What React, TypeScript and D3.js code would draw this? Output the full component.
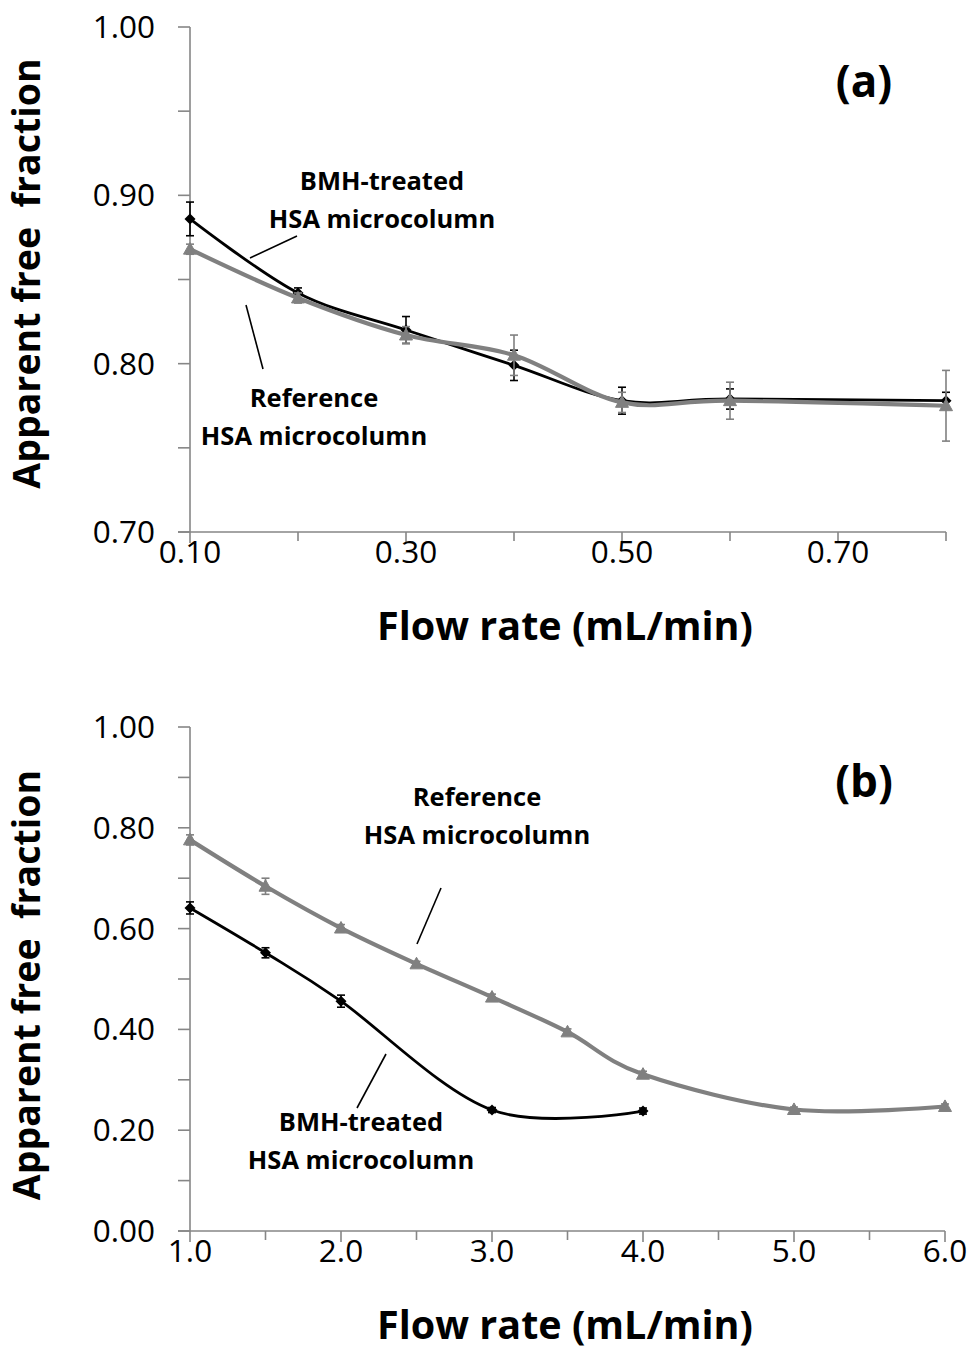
import React from "react";
import * as d3 from "d3";

// ---------- Panel (a) data ----------
const flowA = [0.1, 0.2, 0.3, 0.4, 0.5, 0.6, 0.8];
const bmhA = [0.886, 0.842, 0.82, 0.799, 0.778, 0.779, 0.778];
const bmhAErr = [0.01, 0.003, 0.008, 0.009, 0.008, 0.006, 0.005];
const refA = [0.868, 0.839, 0.817, 0.805, 0.777, 0.778, 0.775];
const refAErr = [0.003, 0.003, 0.005, 0.012, 0.006, 0.011, 0.021];
const xTicksA = [0.1, 0.2, 0.3, 0.4, 0.5, 0.6, 0.7, 0.8];
const xLabelsA = [0.1, 0.3, 0.5, 0.7];
const yTicksA = [0.7, 0.75, 0.8, 0.85, 0.9, 0.95, 1.0];
const yLabelsA = [0.7, 0.8, 0.9, 1.0];

// ---------- Panel (b) data ----------
const flowBmhB = [1.0, 1.5, 2.0, 3.0, 4.0];
const bmhB = [0.641, 0.552, 0.456, 0.24, 0.238];
const bmhBErr = [0.012, 0.01, 0.012, 0.005, 0.006];
const flowRefB = [1.0, 1.5, 2.0, 2.5, 3.0, 3.5, 4.0, 5.0, 6.0];
const refB = [0.776, 0.684, 0.601, 0.53, 0.464, 0.395, 0.311, 0.241, 0.247];
const refBErr = [0.01, 0.016, 0.007, 0.005, 0.006, 0.006, 0.006, 0.005, 0.005];
const xTicksB = [1, 1.5, 2, 2.5, 3, 3.5, 4, 4.5, 5, 5.5, 6];
const xLabelsB = [1, 2, 3, 4, 5, 6];
const yTicksB = [0, 0.1, 0.2, 0.3, 0.4, 0.5, 0.6, 0.7, 0.8, 0.9, 1.0];
const yLabelsB = [0, 0.2, 0.4, 0.6, 0.8, 1.0];

const AXIS = "#868686";
const GRAY = "#808080";
const FONT = "'Open Sans', 'DejaVu Sans', sans-serif";

type Series = { x: number[]; y: number[]; err: number[]; color: string; width: number; marker: "diamond" | "triangle" };

function marker(kind: string, cx: number, cy: number, color: string, key: string) {
  if (kind === "diamond") {
    const r = 5.5;
    return <path key={key} d={`M${cx},${cy - r}L${cx + r},${cy}L${cx},${cy + r}L${cx - r},${cy}Z`} fill={color} />;
  }
  const w = 6.5, h = 11;
  return <path key={key} d={`M${cx},${cy - h * 0.6}L${cx + w},${cy + h * 0.45}L${cx - w},${cy + h * 0.45}Z`} fill={color} stroke={color} strokeWidth={1} strokeLinejoin="round" />;
}

function Panel(props: {
  xDomain: [number, number]; yDomain: [number, number];
  xRange: [number, number]; yRange: [number, number];
  xTicks: number[]; xLabels: number[]; yTicks: number[]; yLabels: number[];
  xFmt: string; yFmt: string; series: Series[]; tag: string; titleShift: number;
  notes: { lines: string[]; x: number; y: number; leader: [number, number, number, number] }[];
}) {
  const x = d3.scaleLinear().domain(props.xDomain).range(props.xRange);
  const y = d3.scaleLinear().domain(props.yDomain).range(props.yRange);
  const xf = d3.format(props.xFmt);
  const yf = d3.format(props.yFmt);
  const x0 = props.xRange[0], x1 = props.xRange[1];
  const yb = props.yRange[0], yt = props.yRange[1];
  const isLabX = (v: number) => props.xLabels.some((l) => Math.abs(l - v) < 1e-9);
  const line = d3.line<[number, number]>().x((d) => x(d[0])).y((d) => y(d[1])).curve(d3.curveCardinal.tension(0));
  return (
    <g>
      {/* axes */}
      <line x1={x0} x2={x0} y1={yt} y2={yb} stroke={AXIS} strokeWidth={1.6} />
      <line x1={x0 - 12} x2={x1} y1={yb} y2={yb} stroke={AXIS} strokeWidth={1.6} />
      {props.yTicks.map((v, i) => (
        <line key={"yt" + i} x1={x0 - 12} x2={x0} y1={y(v)} y2={y(v)} stroke={AXIS} strokeWidth={1.6} />
      ))}
      {props.xTicks.map((v, i) => (
        <line key={"xt" + i} x1={x(v)} x2={x(v)} y1={yb} y2={yb + (isLabX(v) ? 11 : 9)} stroke={AXIS} strokeWidth={1.6} />
      ))}
      {props.yLabels.map((v, i) => (
        <text key={"yl" + i} x={x0 - 35} y={y(v) + 11} textAnchor="end" fontFamily={FONT} fontSize={31.5} fill="#000">
          {yf(v)}
        </text>
      ))}
      {props.xLabels.map((v, i) => (
        <text key={"xl" + i} x={x(v)} y={yb + 31} textAnchor="middle" fontFamily={FONT} fontSize={31.5} fill="#000">
          {xf(v)}
        </text>
      ))}
      {/* axis titles */}
      <text transform={`translate(40,${(yt + yb) / 2 + props.titleShift}) rotate(-90)`} textAnchor="middle" fontFamily={FONT} fontWeight="bold" fontSize={37.5} fill="#000">
        {"Apparent free\u00a0 fraction"}
      </text>
      <text x={565} y={yb + 108} textAnchor="middle" fontFamily={FONT} fontWeight="bold" fontSize={39.5} fill="#000">
        Flow rate (mL/min)
      </text>
      {/* series */}
      {props.series.map((s, si) => {
        const pts = s.x.map((v, i) => [v, s.y[i]] as [number, number]);
        return (
          <g key={"s" + si}>
            {s.x.map((v, i) => {
              const cx = x(v);
              const ya = y(s.y[i] + s.err[i]);
              const yb2 = y(s.y[i] - s.err[i]);
              return (
                <g key={"e" + i} stroke={s.color} strokeWidth={1.6}>
                  <line x1={cx} x2={cx} y1={ya} y2={yb2} />
                  <line x1={cx - 4} x2={cx + 4} y1={ya} y2={ya} />
                  <line x1={cx - 4} x2={cx + 4} y1={yb2} y2={yb2} />
                </g>
              );
            })}
            <path d={line(pts) || ""} fill="none" stroke={s.color} strokeWidth={s.width} strokeLinejoin="round" />
            {s.x.map((v, i) => marker(s.marker, x(v), y(s.y[i]), s.color, "m" + i))}
          </g>
        );
      })}
      {/* annotations */}
      {props.notes.map((n, i) => (
        <g key={"n" + i}>
          {n.lines.map((t, j) => (
            <text key={j} x={n.x} y={n.y + j * 38} textAnchor="middle" fontFamily={FONT} fontWeight="bold" fontSize={25.5} fill="#000">
              {t}
            </text>
          ))}
          <line x1={n.leader[0]} y1={n.leader[1]} x2={n.leader[2]} y2={n.leader[3]} stroke="#000" strokeWidth={1.6} />
        </g>
      ))}
      <text x={864} y={yt + 70} textAnchor="middle" fontFamily={FONT} fontWeight="bold" fontSize={44} fill="#000">
        {props.tag}
      </text>
    </g>
  );
}

export default function App() {
  return (
    <div style={{ position: "absolute", left: 0, top: 0, width: 969, height: 1355, background: "#fff" }}>
      <svg width={969} height={1355} viewBox="0 0 969 1355" style={{ display: "block" }}>
        <rect width={969} height={1355} fill="#fff" />
        <Panel
          xDomain={[0.1, 0.8]} yDomain={[0.7, 1.0]}
          xRange={[190, 946]} yRange={[532, 27]}
          xTicks={xTicksA} xLabels={xLabelsA} yTicks={yTicksA} yLabels={yLabelsA}
          xFmt=".2f" yFmt=".2f" tag="(a)" titleShift={-6}
          series={[
            { x: flowA, y: bmhA, err: bmhAErr, color: "#000", width: 2.8, marker: "diamond" },
            { x: flowA, y: refA, err: refAErr, color: GRAY, width: 4.2, marker: "triangle" },
          ]}
          notes={[
            { lines: ["BMH-treated", "HSA microcolumn"], x: 382, y: 190, leader: [250, 258, 297, 236] },
            { lines: ["Reference", "HSA microcolumn"], x: 314, y: 407, leader: [246, 305, 263, 369] },
          ]}
        />
        <Panel
          xDomain={[1, 6]} yDomain={[0, 1]}
          xRange={[190, 945]} yRange={[1231, 727]}
          xTicks={xTicksB} xLabels={xLabelsB} yTicks={yTicksB} yLabels={yLabelsB}
          xFmt=".1f" yFmt=".2f" tag="(b)" titleShift={6}
          series={[
            { x: flowBmhB, y: bmhB, err: bmhBErr, color: "#000", width: 2.8, marker: "diamond" },
            { x: flowRefB, y: refB, err: refBErr, color: GRAY, width: 4.2, marker: "triangle" },
          ]}
          notes={[
            { lines: ["Reference", "HSA microcolumn"], x: 477, y: 806, leader: [441, 888, 417, 944] },
            { lines: ["BMH-treated", "HSA microcolumn"], x: 361, y: 1131, leader: [386, 1054, 357, 1108] },
          ]}
        />
      </svg>
    </div>
  );
}
